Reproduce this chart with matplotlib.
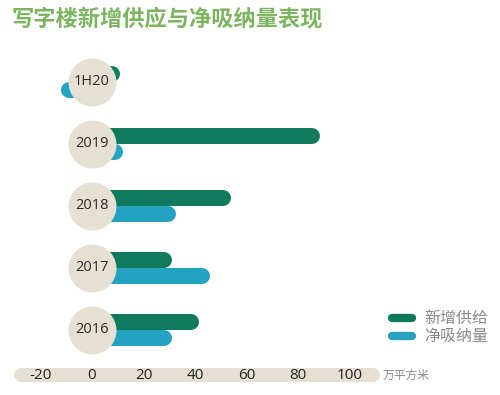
import matplotlib.pyplot as plt
import numpy as np

plt.rcParams['font.family'] = ['Noto Sans CJK SC', 'DejaVu Sans']

years = ['1H20', '2019', '2018', '2017', '2016']
supply = [11, 88.5, 54, 31, 41.5]       # 新增供给
absorption = [-12, 12, 32.5, 46, 31]    # 净吸纳量
ticks = [-20, 0, 20, 40, 60, 80, 100]

green = '#107a5c'
blue = '#24a2c2'
beige = '#e6e0d3'

fig = plt.figure(figsize=(5, 3.95), dpi=100)
ax = fig.add_axes([0, 0, 1, 1])
ax.set_xlim(-35.7, 158.4)
ax.set_ylim(5.05, -1.32)
ax.axis('off')

px_x = 500 / (158.4 + 35.7)      # pixels per data unit
px_y = 395 / (5.05 + 1.32)
bar_px = 16
lw = bar_px * 72 / 100
cap = bar_px / 2 / px_x           # round cap length in data units
off = bar_px / 2 / px_y

def rbar(y, v, color):
    end = v - cap if v > 0 else v + cap
    ax.plot([0, end], [y, y], color=color, lw=lw, solid_capstyle='round', zorder=2)

for i, (s, a) in enumerate(zip(supply, absorption)):
    rbar(i - off, s, green)
    rbar(i + off, a, blue)

ax.scatter(np.zeros(len(years)), np.arange(len(years)), s=(48 * 0.72) ** 2,
           color=beige, zorder=3, linewidths=0)
for i, y in enumerate(years):
    ax.text(0, i, y, ha='center', va='center', fontsize=10.5, color='#2a2a2a',
            family=['Open Sans', 'DejaVu Sans'], zorder=4)

# axis band
band_y = 4.73
band_cap = 7 / px_x
ax.plot([-30.3 + band_cap, 112 - band_cap], [band_y, band_y], color=beige,
        lw=14 * 0.72, solid_capstyle='round', zorder=1)
for t in ticks:
    ax.text(t, band_y, str(t), ha='center', va='center', fontsize=11,
            color='#222222', family=['Open Sans', 'DejaVu Sans'], zorder=2)
fig.text(383 / 500, 1 - 375 / 395, '万平方米', ha='left', va='center',
         fontsize=8.5, color='#8a8a8a')

# legend
for k, (lab, c) in enumerate([('新增供给', green), ('净吸纳量', blue)]):
    yy = 1 - (318 + 18 * k) / 395
    fig.add_artist(plt.Line2D([392 / 500, 412 / 500], [yy, yy], color=c, lw=6,
                              solid_capstyle='round'))
    fig.text(424 / 500, yy, lab, ha='left', va='center', fontsize=11.5,
             color='#8a8a8a')

fig.text(12 / 500, 1 - 19 / 395, '写字楼新增供应与净吸纳量表现', ha='left',
         va='center', fontsize=16, fontweight='bold', color='#7cb560')

fig.savefig('out.png', dpi=100)
